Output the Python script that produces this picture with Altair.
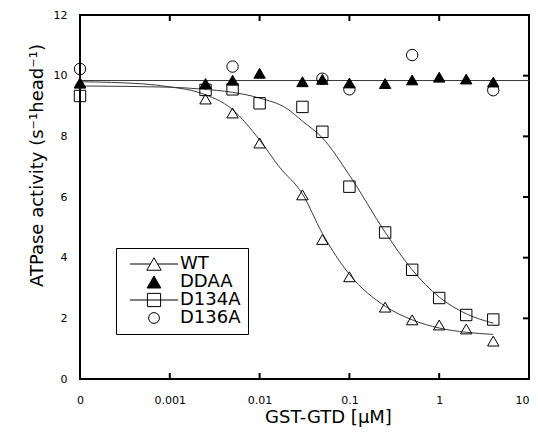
import altair as alt
import pandas as pd

# ---------------- data ----------------
ZERO_POS = 1e-4  # position used on the log axis for the "0" concentration

conc = [0, 0.0025, 0.005, 0.01, 0.03, 0.05, 0.1, 0.25, 0.5, 1, 2, 4]
wt = [9.76, 9.23, 8.77, 7.78, 6.07, 4.60, 3.37, 2.37, 1.95, 1.78, 1.65, 1.25]
ddaa = [9.76, 9.74, 9.85, 10.08, 9.80, 9.88, 9.76, 9.74, 9.86, 9.95, 9.89, 9.79]
d134a = [9.33, 9.53, 9.55, 9.09, 8.97, 8.15, 6.34, 4.83, 3.60, 2.67, 2.11, 1.96]
d136a_conc = [0, 0.005, 0.05, 0.1, 0.5, 4]
d136a = [10.22, 10.30, 9.90, 9.55, 10.68, 9.52]

wt_fit_x = [0, 0.0005, 0.001, 0.0022, 0.005, 0.01, 0.0165, 0.03, 0.05, 0.1, 0.25, 0.5, 1, 2, 4]
wt_fit_y = [9.80, 9.73, 9.63, 9.43, 8.88, 7.88, 7.00, 6.10, 4.80, 3.45, 2.40, 1.95, 1.68, 1.54, 1.47]
d134a_fit_x = [0, 0.001, 0.0022, 0.005, 0.01, 0.02, 0.03, 0.05, 0.1, 0.25, 0.5, 1, 2, 4]
d134a_fit_y = [9.66, 9.62, 9.56, 9.45, 9.26, 8.92, 8.50, 7.95, 6.72, 4.84, 3.60, 2.70, 2.15, 1.84]
ddaa_fit_x = [0, 10]
ddaa_fit_y = [9.84, 9.84]

series_names = ["WT", "DDAA", "D134A", "D136A"]
x_tick_values = [0, 0.001, 0.01, 0.1, 1, 10]
inner_x_ticks = [0.001, 0.01, 0.1, 1]
y_tick_values = [0, 2, 4, 6, 8, 10, 12]
inner_y_ticks = [2, 4, 6, 8, 10]


def pos(v):
    return v if v > 0 else ZERO_POS


rows = []
for name, xs, ys in [("WT", conc, wt), ("DDAA", conc, ddaa),
                     ("D134A", conc, d134a), ("D136A", d136a_conc, d136a)]:
    for xv, yv in zip(xs, ys):
        rows.append({"x": pos(xv), "y": yv, "series": name})
points_df = pd.DataFrame(rows)

frows = []
for name, xs, ys in [("WT", wt_fit_x, wt_fit_y), ("D134A", d134a_fit_x, d134a_fit_y),
                     ("DDAA", ddaa_fit_x, ddaa_fit_y)]:
    for xv, yv in zip(xs, ys):
        frows.append({"x": pos(xv), "y": yv, "series": name})
fits_df = pd.DataFrame(frows)

xt_df = pd.DataFrame({"x": inner_x_ticks})
yt_df = pd.DataFrame({"y": inner_y_ticks})

# ---------------- styling ----------------
W, H = 449, 364
FONT = "DejaVu Sans"

xscale = alt.Scale(type="log", domain=[ZERO_POS, 10], nice=False)
yscale = alt.Scale(domain=[0, 12], nice=False, zero=False)

x_axis = alt.Axis(
    values=[pos(v) for v in x_tick_values], format="~g",
    labelExpr="datum.value < 0.0005 ? '0' : datum.label",
    labelAlign={"condition": {"test": "datum.value > 5", "value": "right"}, "value": "center"},
    ticks=False, domain=False, grid=False, labelFlush=False, labelOverlap=False,
    labelFont=FONT, labelFontSize=11, labelColor="black", labelPadding=15,
    title="GST-GTD [μM]", titleFont=FONT, titleFontSize=18, titleFontWeight="normal",
    titleColor="black", titleX=248, titleY=38, titleBaseline="middle",
)
y_axis = alt.Axis(
    values=y_tick_values, ticks=False, domain=False, grid=False, labelFlush=False,
    labelFont=FONT, labelFontSize=11, labelColor="black", labelPadding=13,
    title="ATPase activity (s⁻¹head⁻¹)", titleFont=FONT, titleFontSize=18,
    titleFontWeight="normal", titleColor="black", titleX=-43, titleY=150,
    titleBaseline="middle",
)


def X(field="x"):
    return alt.X(f"{field}:Q", scale=xscale, axis=x_axis)


def Y(field="y"):
    return alt.Y(f"{field}:Q", scale=yscale, axis=y_axis)


# legend-only symbols: marker with the fit line through it
WT_PATH = "M0,-1.04L1.2,1.04L-1.2,1.04Z M-4,0H-0.6 M0.6,0H4"
DDAA_PATH = "M0,-1.0L1.15,1.0L-1.15,1.0Z"
SQ_PATH = "M-1.1,-1.1H1.1V1.1H-1.1Z M-4,0H4"
CIRC_PATH = "M0.9,0A0.9,0.9,0,1,1,-0.9,0A0.9,0.9,0,1,1,0.9,0Z"

legend = alt.Legend(
    title=None, orient="none", legendX=36, legendY=233,
    fillColor="white", strokeColor="black", padding=7,
    labelFont=FONT, labelFontSize=18, labelColor="black", labelOffset=17,
    symbolSize=144, symbolStrokeWidth=1, symbolOffset=22, rowPadding=-1,
)

fill_scale_range = ["transparent", "black", "transparent", "transparent"]

lines = alt.Chart(fits_df).mark_line(
    color="#3a3a3a", strokeWidth=1, interpolate="monotone"
).encode(x=X(), y=Y(), detail="series:N")

points = alt.Chart(points_df).mark_point(
    filled=True, stroke="black", strokeWidth=1, size=130, opacity=1
).encode(
    x=X(), y=Y(),
    shape=alt.Shape("series:N", legend=None,
                    scale=alt.Scale(domain=series_names,
                                    range=["triangle-up", "triangle-up", "square", "circle"])),
    fill=alt.Fill("series:N", legend=None,
                  scale=alt.Scale(domain=series_names, range=fill_scale_range)),
)

legend_layer = alt.Chart(points_df).transform_filter("false").mark_point(
    filled=True, strokeWidth=1, size=144, opacity=1
).encode(
    x=X(), y=Y(),
    shape=alt.Shape("series:N", legend=legend,
                    scale=alt.Scale(domain=series_names,
                                    range=[WT_PATH, DDAA_PATH, SQ_PATH, CIRC_PATH])),
    fill=alt.Fill("series:N", legend=legend,
                  scale=alt.Scale(domain=series_names, range=fill_scale_range)),
    stroke=alt.Stroke("series:N", legend=legend,
                      scale=alt.Scale(domain=series_names,
                                      range=["black", "black", "black", "black"])),
)

bottom_ticks = alt.Chart(xt_df).mark_rule(color="black", strokeWidth=2).encode(
    x=X(), y=alt.value(H), y2=alt.value(H - 6))
top_ticks = alt.Chart(xt_df).mark_rule(color="black", strokeWidth=2).encode(
    x=X(), y=alt.value(0), y2=alt.value(6))
right_ticks = alt.Chart(yt_df).mark_rule(color="black", strokeWidth=2).encode(
    y=Y(), x=alt.value(W), x2=alt.value(W - 6))

chart = alt.layer(
    lines, points, legend_layer, bottom_ticks, top_ticks, right_ticks
).resolve_scale(shape="independent", fill="independent", stroke="independent").properties(
    width=W, height=H,
    autosize=alt.AutoSizeParams(type="none"),
    padding={"left": 72, "top": 7, "right": 1, "bottom": 50},
    background="white",
).configure_view(stroke="black", strokeWidth=2)

chart.save("out.html", embed_options={"renderer": "svg", "actions": False})
